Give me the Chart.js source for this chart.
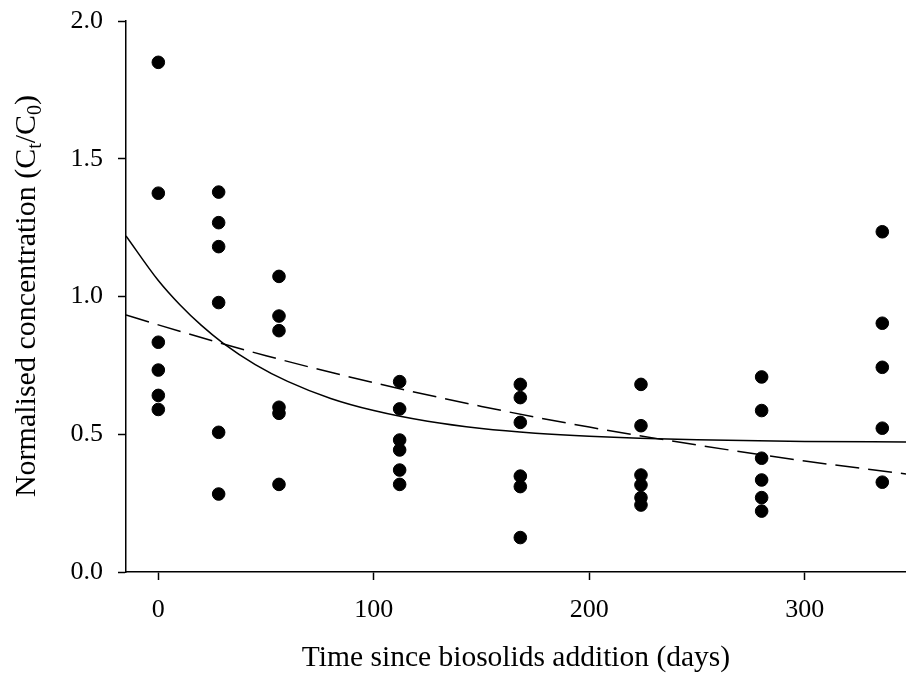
<!DOCTYPE html>
<html>
<head>
<meta charset="utf-8">
<script src="https://cdn.jsdelivr.net/npm/chart.js@4.4.1/dist/chart.umd.min.js"></script>
<style>
  html, body { margin: 0; padding: 0; background: #fff; }
  #wrap { width: 906px; height: 680px; position: relative; }
</style>
</head>
<body>
<div id="wrap"><canvas id="concChart" width="906" height="680"></canvas></div>
<script>
// Sampling days after biosolids were added
const days = [0, 28, 56, 112, 168, 224, 280, 336];

// Normalised concentration Ct/C0 measured on each sampling day
const concentrations = [
  [1.85, 1.375, 0.834, 0.733, 0.641, 0.590],
  [1.379, 1.268, 1.181, 0.978, 0.507, 0.283],
  [1.073, 0.929, 0.876, 0.598, 0.576, 0.318],
  [0.691, 0.592, 0.479, 0.443, 0.370, 0.318],
  [0.681, 0.633, 0.543, 0.348, 0.310, 0.125],
  [0.681, 0.531, 0.352, 0.316, 0.270, 0.243],
  [0.708, 0.586, 0.413, 0.334, 0.270, 0.221],
  [1.235, 0.903, 0.743, 0.522, 0.326]
];

// Fitted decay curve (solid)
const fitDays = [-15, 0, 10, 20, 30, 45, 60, 80, 100, 125, 150, 175, 200, 250, 300, 347];
const fitValues = [1.220, 1.058, 0.970, 0.895, 0.831, 0.753, 0.692, 0.630, 0.586, 0.547, 0.521, 0.504, 0.493, 0.480, 0.474, 0.472];

// Second fitted curve (dashed)
const fit2Days = [-15, 0, 50, 100, 150, 200, 250, 300, 347];
const fit2Values = [0.933, 0.897, 0.785, 0.687, 0.601, 0.526, 0.461, 0.403, 0.356];

// Axis ticks
const xTicks = [0, 100, 200, 300];
const yTicks = [0.0, 0.5, 1.0, 1.5, 2.0];

const FONT = '"Liberation Serif", "Times New Roman", serif';

const points = [];
days.forEach((d, i) => {
  concentrations[i].forEach(v => points.push({ x: d, y: v }));
});

// y axis title with subscripts, drawn rotated on the left
const yTitlePlugin = {
  id: 'yTitle',
  afterDraw(chart) {
    const ctx = chart.ctx;
    const parts = [
      ['Normalised concentration (C', 0],
      ['t', 1],
      ['/C', 0],
      ['0', 1],
      [')', 0]
    ];
    const big = '30px ' + FONT;
    const small = '20px ' + FONT;
    let total = 0;
    parts.forEach(p => {
      ctx.font = p[1] ? small : big;
      total += ctx.measureText(p[0]).width;
    });
    ctx.save();
    ctx.translate(27, 296);
    ctx.rotate(-Math.PI / 2);
    ctx.fillStyle = '#000';
    ctx.textBaseline = 'middle';
    ctx.textAlign = 'left';
    let x = -total / 2;
    parts.forEach(p => {
      ctx.font = p[1] ? small : big;
      ctx.fillText(p[0], x, p[1] ? 9 : 0);
      x += ctx.measureText(p[0]).width;
    });
    ctx.restore();
  }
};

const ctx = document.getElementById('concChart').getContext('2d');
new Chart(ctx, {
  type: 'scatter',
  data: {
    datasets: [
      {
        data: points,
        backgroundColor: '#000',
        borderColor: '#000',
        pointRadius: 6.3,
        pointHoverRadius: 6.3,
        order: 1
      },
      {
        type: 'line',
        data: fitDays.map((d, i) => ({ x: d, y: fitValues[i] })),
        borderColor: '#000',
        borderWidth: 1.5,
        pointRadius: 0,
        fill: false,
        cubicInterpolationMode: 'monotone',
        order: 2
      },
      {
        type: 'line',
        data: fit2Days.map((d, i) => ({ x: d, y: fit2Values[i] })),
        borderColor: '#000',
        borderWidth: 1.5,
        borderDash: [24, 9],
        pointRadius: 0,
        fill: false,
        cubicInterpolationMode: 'monotone',
        order: 3
      }
    ]
  },
  options: {
    responsive: false,
    animation: false,
    layout: { autoPadding: false, padding: { top: 21, right: 0, bottom: 0, left: 0 } },
    plugins: {
      legend: { display: false },
      tooltip: { enabled: false }
    },
    scales: {
      x: {
        type: 'linear',
        min: -15,
        max: 347,
        afterBuildTicks: s => { s.ticks = xTicks.map(v => ({ value: v })); },
        afterFit: s => { s.height = 108; s.paddingLeft = 0; s.paddingRight = 0; },
        grid: { display: true, drawOnChartArea: false, drawTicks: true, tickLength: 8, color: '#000', tickWidth: 1.5 },
        border: { display: true, color: '#000', width: 1.5 },
        ticks: { color: '#000', font: { family: FONT, size: 26 }, padding: 15 },
        title: {
          display: true,
          text: 'Time since biosolids addition (days)',
          color: '#000',
          font: { family: FONT, size: 29.5 },
          padding: { top: 15 }
        }
      },
      y: {
        type: 'linear',
        min: 0,
        max: 2,
        afterBuildTicks: s => { s.ticks = yTicks.map(v => ({ value: v })); },
        afterFit: s => { s.width = 126; s.paddingTop = 0; s.paddingBottom = 0; },
        grid: { display: true, drawOnChartArea: false, drawTicks: true, tickLength: 8, color: '#000', tickWidth: 1.5 },
        border: { display: true, color: '#000', width: 1.5 },
        ticks: {
          color: '#000',
          font: { family: FONT, size: 26 },
          padding: 15,
          callback: v => v.toFixed(1)
        }
      }
    }
  },
  plugins: [yTitlePlugin]
});
</script>
</body>
</html>
